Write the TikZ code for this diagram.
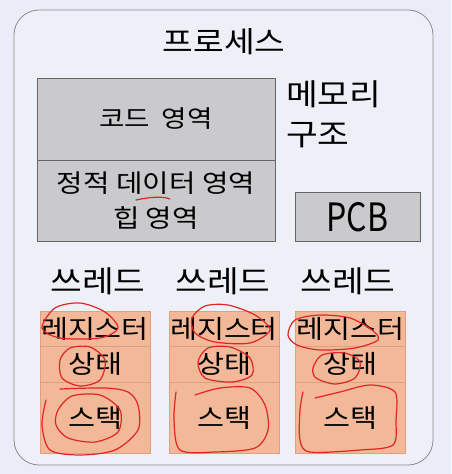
\documentclass[tikz,border=0pt]{standalone}
\usepackage{fontspec}
\setmainfont[FakeStretch=1.15]{Noto Sans CJK KR}
\newfontfamily\pcbfont[FakeStretch=0.82]{Noto Sans CJK KR}
\definecolor{bgcol}{RGB}{234,236,247}
\definecolor{proccol}{RGB}{238,240,247}
\definecolor{memfill}{RGB}{202,202,205}
\definecolor{thrfill}{RGB}{242,184,152}
\definecolor{thrline}{RGB}{222,160,128}
\definecolor{penred}{RGB}{222,38,38}
\tikzset{
  graybox/.style={draw=black!60,fill=memfill,line width=0.8pt,align=center},
  thrbox/.style={draw=thrline,fill=thrfill,minimum width=110,inner sep=0pt,
    font=\fontsize{25.5}{30}\selectfont},
  scribble/.style={penred,line width=1.2pt,line cap=round}
}
\begin{document}
\begin{tikzpicture}[x=1pt,y=-1pt]
\fill[bgcol] (0,0) rectangle (451,474);
\useasboundingbox (0,0) rectangle (451,474);
\draw[rounded corners=25pt,fill=proccol,draw=black!45,line width=0.8pt] (14,10) rectangle (433,465);
\node[font=\fontsize{29}{34}\selectfont] (title) at (224,42) {프로세스};
\node[graybox,minimum width=238,minimum height=82,font=\fontsize{24}{28}\selectfont] (code) at (156,119) {코드\hspace{12pt}영역};
\node[graybox,minimum width=238,minimum height=81,font=\fontsize{25}{35}\selectfont] (data) at (156,200.5) {정적 데이터 영역\\힙 영역};
\node[anchor=west,inner sep=0pt,align=left,font=\fontsize{30}{40}\selectfont] (memlabel) at (286,114) {메모리\\구조};
\node[graybox,minimum width=125,minimum height=49,font=\pcbfont\fontsize{39}{39}\selectfont] (pcb) at (357.5,217) {PCB};
\foreach \cx/\lx [count=\i] in {95/98,224/223,350.5/348} {
  \node[font=\fontsize{30}{34}\selectfont] (thr\i) at (\lx,281) {쓰레드};
  \node[thrbox,minimum height=35] (reg\i) at (\cx,328.5) {레지스터};
  \node[thrbox,minimum height=36] (state\i) at (\cx,364) {상태};
  \node[thrbox,minimum height=71] (stack\i) at (\cx,417.5) {스택};
}
\draw[scribble] (136,200) .. controls (150,197) and (162,196) .. (170,199);
\draw[scribble] plot[smooth cycle] coordinates {(42,328) (55,308) (80,303) (105,312) (118,328) (100,338) (60,338)};
\draw[scribble] plot[smooth cycle] coordinates {(60,360) (70,348) (90,347) (105,360) (100,380) (80,386) (62,378)};
\draw[scribble] plot[smooth cycle] coordinates {(58,410) (72,396) (100,395) (120,410) (118,432) (95,442) (68,438) (56,425)};
\draw[scribble] plot[smooth] coordinates {(46,400) (42,425) (50,450) (80,455) (115,450) (138,430) (138,405) (128,392) (105,388) (60,389)};
\draw[scribble] plot[smooth cycle] coordinates {(192,318) (205,306) (228,305) (255,315) (270,330) (250,343) (215,342) (195,333)};
\draw[scribble] plot[smooth cycle] coordinates {(198,362) (208,348) (230,347) (250,358) (252,375) (232,382) (205,378)};
\draw[scribble] plot[smooth] coordinates {(195,395) (220,388) (250,388) (265,405) (268,430) (255,448) (215,452) (180,450) (174,420) (176,392)};
\draw[scribble] plot[smooth cycle] coordinates {(288,335) (295,320) (320,315) (350,318) (372,330) (378,340) (355,348) (320,350) (297,345)};
\draw[scribble] plot[smooth cycle] coordinates {(313,368) (322,355) (345,353) (360,362) (355,378) (335,384) (316,378)};
\draw[scribble] plot[smooth] coordinates {(315,398) (340,392) (370,385) (395,392) (396,420) (393,445) (360,450) (310,452) (300,440) (300,410) (303,392)};
\end{tikzpicture}
\end{document}
